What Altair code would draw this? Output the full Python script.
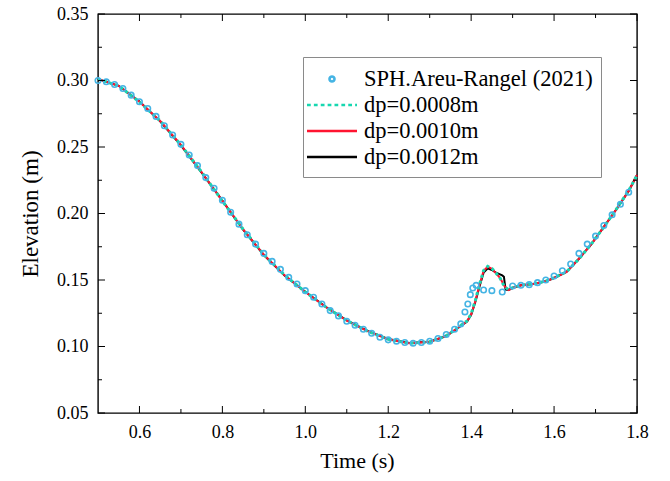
import altair as alt
import pandas as pd

# ---------------- data ----------------
sph_t = [0.50, 0.52, 0.54, 0.56, 0.58, 0.60, 0.62, 0.64, 0.66, 0.68, 0.70, 0.72, 0.74, 0.76, 0.78,
         0.80, 0.82, 0.84, 0.86, 0.88, 0.90, 0.92, 0.94, 0.96, 0.98, 1.00, 1.02, 1.04, 1.06, 1.08,
         1.10, 1.12, 1.14, 1.16, 1.18, 1.20, 1.22, 1.24, 1.26, 1.28, 1.30, 1.32, 1.34, 1.36, 1.375,
         1.385, 1.392, 1.398, 1.404, 1.412, 1.430, 1.450, 1.475, 1.500, 1.520, 1.540, 1.560, 1.580,
         1.600, 1.620, 1.640, 1.660, 1.680, 1.700, 1.720, 1.740, 1.760, 1.780]
sph_y = [0.300, 0.299, 0.297, 0.294, 0.289, 0.284, 0.279, 0.273, 0.266, 0.259, 0.252, 0.244, 0.236, 0.227, 0.219,
         0.210, 0.201, 0.192, 0.184, 0.177, 0.170, 0.164, 0.158, 0.152, 0.147, 0.142, 0.137, 0.132, 0.127, 0.123,
         0.119, 0.116, 0.113, 0.110, 0.107, 0.105, 0.104, 0.103, 0.1025, 0.103, 0.104, 0.106, 0.109, 0.113, 0.117,
         0.126, 0.132, 0.139, 0.144, 0.146, 0.1425, 0.142, 0.141, 0.1455, 0.146, 0.1465, 0.148, 0.150,
         0.153, 0.157, 0.162, 0.170, 0.177, 0.183, 0.191, 0.199, 0.207, 0.216]

dp08_t = [0.50, 0.55, 0.60, 0.65, 0.70, 0.75, 0.80, 0.85, 0.90, 0.95, 1.00, 1.05, 1.10, 1.15, 1.20,
          1.25, 1.30, 1.34, 1.37, 1.39, 1.40, 1.41, 1.42, 1.43, 1.44, 1.45, 1.46, 1.47, 1.48, 1.49,
          1.50, 1.52, 1.55, 1.58, 1.60, 1.63, 1.66, 1.69, 1.72, 1.75, 1.78, 1.80]
dp08_y = [0.301, 0.296, 0.2838, 0.2697, 0.2515, 0.2312, 0.2093, 0.1882, 0.1692, 0.1537, 0.1410, 0.1296, 0.1195, 0.1115, 0.1054,
          0.1024, 0.1035, 0.1081, 0.1147, 0.1192, 0.1245, 0.1345, 0.1465, 0.1572, 0.1603, 0.1587, 0.1552, 0.1512, 0.1452, 0.1427,
          0.1442, 0.1461, 0.1471, 0.1492, 0.1517, 0.1562, 0.1658, 0.1772, 0.1898, 0.2032, 0.2172, 0.2288]

dp10_t = [0.50, 0.55, 0.60, 0.65, 0.70, 0.75, 0.80, 0.85, 0.90, 0.95, 1.00, 1.05, 1.10, 1.15, 1.20,
          1.25, 1.30, 1.34, 1.37, 1.39, 1.40, 1.41, 1.42, 1.43, 1.44, 1.45, 1.46, 1.47, 1.48, 1.49,
          1.50, 1.52, 1.55, 1.58, 1.60, 1.63, 1.66, 1.69, 1.72, 1.75, 1.78, 1.80]
dp10_y = [0.301, 0.296, 0.2840, 0.2695, 0.2515, 0.2310, 0.2095, 0.1880, 0.1690, 0.1535, 0.1410, 0.1295, 0.1195, 0.1115, 0.1055,
          0.1025, 0.1035, 0.1080, 0.1145, 0.1190, 0.1240, 0.1340, 0.1460, 0.1570, 0.1600, 0.1585, 0.1550, 0.1515, 0.1455, 0.1425,
          0.1440, 0.1460, 0.1470, 0.1490, 0.1515, 0.1560, 0.1660, 0.1770, 0.1900, 0.2030, 0.2170, 0.2290]

dp12_t = [0.50, 0.55, 0.60, 0.65, 0.70, 0.75, 0.80, 0.85, 0.90, 0.95, 1.00, 1.05, 1.10, 1.15, 1.20,
          1.25, 1.30, 1.34, 1.37, 1.39, 1.40, 1.41, 1.42, 1.43, 1.44, 1.45, 1.46, 1.475, 1.479, 1.483,
          1.49, 1.50, 1.52, 1.55, 1.58, 1.60, 1.63, 1.66, 1.69, 1.72, 1.75, 1.78, 1.80]
dp12_y = [0.301, 0.296, 0.2842, 0.2693, 0.2513, 0.2308, 0.2097, 0.1878, 0.1688, 0.1533, 0.1412, 0.1297, 0.1197, 0.1117, 0.1056,
          0.1026, 0.1036, 0.1079, 0.1143, 0.1188, 0.1238, 0.1335, 0.1450, 0.1555, 0.1588, 0.1575, 0.1555, 0.1535, 0.1525, 0.1428,
          0.1425, 0.1440, 0.1460, 0.1470, 0.1490, 0.1515, 0.1560, 0.1660, 0.1770, 0.1900, 0.2030, 0.2170, 0.2290]

series_names = ["SPH.Areu-Rangel (2021)", "dp=0.0008m", "dp=0.0010m", "dp=0.0012m"]
series_colors = ["#45B4E4", "#17D7B0", "#FF1430", "#000000"]

x_labels = [0.6, 0.8, 1.0, 1.2, 1.4, 1.6, 1.8]
x_minor = [0.7, 0.9, 1.1, 1.3, 1.5, 1.7]
y_labels = [0.05, 0.10, 0.15, 0.20, 0.25, 0.30, 0.35]
y_minor = [0.075, 0.125, 0.175, 0.225, 0.275, 0.325]

# ---------------- layout ----------------
W, H = 539, 399
FONT = "Liberation Serif"
xs = alt.Scale(domain=[0.5, 1.8], nice=False, zero=False)
ys = alt.Scale(domain=[0.05, 0.35], nice=False, zero=False)

sph_df = pd.DataFrame({"t": sph_t, "y": sph_y})
d08 = pd.DataFrame({"t": dp08_t, "y": dp08_y})
d10 = pd.DataFrame({"t": dp10_t, "y": dp10_y})
d12 = pd.DataFrame({"t": dp12_t, "y": dp12_y})

x_axis = alt.Axis(values=x_labels, format=".1f", title="Time (s)", grid=False, ticks=False, domain=False,
                  labelFont=FONT, labelFontSize=18, labelColor="black", labelPadding=10, labelFlush=False,
                  titleFont=FONT, titleFontSize=22, titleFontWeight="normal", titleColor="black", titlePadding=9,
                  titleX=259)
y_axis = alt.Axis(values=y_labels, format=".2f", title="Elevation (m)", grid=False, ticks=False, domain=False,
                  labelFont=FONT, labelFontSize=18, labelColor="black", labelPadding=10, labelFlush=False,
                  titleFont=FONT, titleFontSize=23, titleFontWeight="normal", titleColor="black", titlePadding=14)

base_enc = dict(x=alt.X("t:Q", scale=xs, axis=x_axis), y=alt.Y("y:Q", scale=ys, axis=y_axis))

l12 = alt.Chart(d12).mark_line(color=series_colors[3], strokeWidth=2).encode(**base_enc)
l10 = alt.Chart(d10).mark_line(color=series_colors[2], strokeWidth=2).encode(**base_enc)
l08 = alt.Chart(d08).mark_line(color=series_colors[1], strokeWidth=3, strokeDash=[3, 3]).encode(**base_enc)
pts = alt.Chart(sph_df).mark_point(shape="circle", filled=False, size=30, strokeWidth=1.6,
                                   color=series_colors[0], opacity=1).encode(**base_enc)

# legend-only layer (drawn outside, clipped)
dots = "M-2,0H-1.7M-1.45,0H-1.15M-0.9,0H-0.6M-0.35,0H-0.05M0.2,0H0.5M0.75,0H1.05M1.3,0H1.6M1.85,0H2"
solid = "M-2,0H2"
ring = "M0.2,0A0.2,0.2,0,1,1,-0.2,0A0.2,0.2,0,1,1,0.2,0Z"
leg_df = pd.DataFrame({"series": series_names})
legend = alt.Legend(title=None, orient="none", legendX=205, legendY=43,
                    labelFont=FONT, labelFontSize=22.5, labelColor="black", labelLimit=500,
                    symbolSize=625, symbolStrokeWidth=2.6, symbolOffset=7, labelOffset=18,
                    padding=8, rowPadding=0, strokeColor="#8a8a8a", fillColor="white")
leg_layer = alt.Chart(leg_df).mark_point(filled=False, size=625, strokeWidth=2.6, opacity=1, clip=True).encode(
    x=alt.value(-200), y=alt.value(-200),
    color=alt.Color("series:N", scale=alt.Scale(domain=series_names, range=series_colors), legend=legend, sort=series_names),
    shape=alt.Shape("series:N", scale=alt.Scale(domain=series_names, range=[ring, dots, solid, solid]), legend=legend, sort=series_names),
)

# inward ticks (mirrored on all sides)
def xticks(vals, length, top):
    df = pd.DataFrame({"v": vals})
    y0, y1 = (0, length) if top else (H, H - length)
    return alt.Chart(df).mark_rule(color="black", strokeWidth=1).encode(
        x=alt.X("v:Q", scale=xs, axis=x_axis), y=alt.value(y0), y2=alt.value(y1))

def yticks(vals, length, right):
    df = pd.DataFrame({"v": vals})
    x0, x1 = (W, W - length) if right else (0, length)
    return alt.Chart(df).mark_rule(color="black", strokeWidth=1).encode(
        y=alt.Y("v:Q", scale=ys, axis=y_axis), x=alt.value(x0), x2=alt.value(x1))

tick_layers = [xticks(x_labels, 7, False), xticks(x_minor, 4, False), xticks(x_labels, 7, True), xticks(x_minor, 4, True),
               yticks(y_labels, 7, False), yticks(y_minor, 4, False), yticks(y_labels, 7, True), yticks(y_minor, 4, True)]

chart = alt.layer(l12, l10, l08, pts, leg_layer, *tick_layers).properties(
    width=W, height=H,
    autosize=alt.AutoSizeParams(type="none"),
    padding={"left": 98, "top": 14, "right": 33, "bottom": 68},
    background="white",
).configure_view(stroke="black", strokeWidth=1.4)

chart.save("out.html", embed_options={"renderer": "svg", "actions": False})
